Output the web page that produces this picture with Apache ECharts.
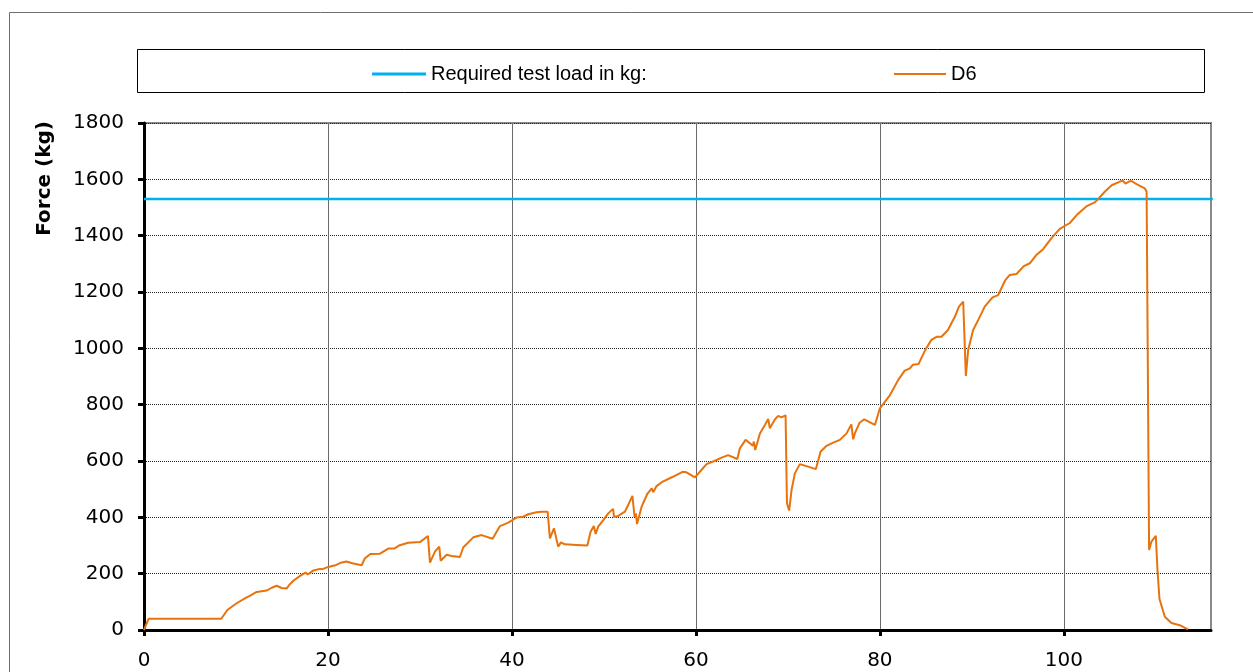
<!DOCTYPE html>
<html>
<head>
<meta charset="utf-8">
<script src="https://cdn.jsdelivr.net/npm/echarts@6/dist/echarts.min.js"></script>
<style>
  html, body { margin: 0; padding: 0; background: #fff; }
  #chart { width: 1253px; height: 672px; }
</style>
</head>
<body>
<div id="chart"></div>
<script>
// Load test record: elapsed time vs measured force
const timeValues = [
  0, 0.5, 8.4, 8.55, 9.06, 10.07, 11.16, 11.5, 12.25, 13.33, 13.88, 14.42, 14.96, 15.5, 15.8,
  16.23, 16.96, 17.57, 17.79, 18.4, 19.13, 19.4, 20.04, 20.9, 21.5, 22.0, 22.75, 23.66, 24.0,
  24.6, 25.65, 26.56, 27.2, 27.8, 28.73, 30.0, 30.87, 31.09, 31.63, 32.1, 32.25, 32.9, 33.45,
  34.35, 34.7, 35.8, 36.7, 37.9, 38.7, 39.6, 40.5, 41.2, 41.77, 42.68, 43.23, 43.88, 44.13,
  44.57, 44.75, 45.03, 45.33, 45.76, 47.03, 48.2, 48.55, 48.9, 49.1, 49.38, 49.93, 50.47, 51.0,
  51.1, 51.56, 52.28, 52.64, 53.1, 53.33, 53.48, 53.6, 54.1, 54.7, 55.2, 55.36, 55.72, 56.4,
  57.5, 58.6, 58.97, 59.9, 60.1, 60.6, 61.16, 62.07, 62.8, 63.5, 64.5, 64.78, 65.4, 65.87, 66.2,
  66.3, 66.45, 66.96, 67.5, 67.86, 68.04, 68.6, 68.95, 69.3, 69.75, 69.9, 70.03, 70.14, 70.4,
  70.76, 71.3, 72.2, 73.04, 73.55, 74.2, 74.93, 75.65, 76.38, 76.9, 77.1, 77.28, 77.8, 78.3,
  79.46, 80.0, 81.1, 82.0, 82.7, 83.26, 83.6, 84.2, 84.9, 85.6, 86.16, 86.7, 87.4, 88.15, 88.6,
  89.06, 89.35, 89.6, 90.14, 90.7, 91.4, 92.25, 92.86, 93.6, 94.1, 94.86, 95.65, 96.3, 97.0,
  97.75, 98.66, 99.56, 100.65, 101.4, 102.5, 103.4, 103.7, 104.45, 105.2, 106.1, 106.4, 106.7,
  107.07, 107.36, 107.9, 108.8, 109.0, 109.27, 109.53, 110.0, 110.18, 110.4, 110.98, 111.7,
  112.6, 113.5
];
const forceValues = [
  0, 40, 40, 47, 71, 95, 116, 121, 135, 140, 150, 157, 149, 147, 160,
  175, 192, 204, 197, 211, 217, 216, 224, 231, 240, 243, 236, 230, 254,
  270, 271, 289, 289, 301, 310, 312, 334, 239, 278, 296, 246, 267, 263,
  259, 293, 329, 337, 324, 369, 381, 399, 402, 411, 418, 420, 420, 325,
  361, 363, 296, 311, 304, 302, 300, 349, 369, 341, 367, 390, 414, 430,
  401, 405, 420, 444, 476, 402, 414, 376, 438, 482, 503, 489, 511, 527,
  544, 562, 560, 542, 540, 568, 589, 601, 612, 621, 607, 645, 675, 663, 654,
  669, 639, 698, 728, 749, 716, 748, 760, 755, 762, 450, 456, 424, 497,
  556, 589, 580, 571, 633, 654, 665, 675, 698, 730, 677, 698, 736, 748,
  728, 787, 834, 888, 921, 929, 942, 944, 992, 1030, 1041, 1041, 1065, 1112, 1148,
  1166, 902, 994, 1065, 1101, 1148, 1181, 1189, 1240, 1260, 1264, 1292, 1302, 1331,
  1352, 1391, 1424, 1445, 1473, 1505, 1519, 1529, 1556, 1579, 1592, 1596, 1585,
  1592, 1594, 1583, 1568, 1556, 284, 314, 334, 213, 110, 47, 25,
  17, 2
];
// Required test load reference line
const requiredLoadX = [0, 116.2];
const requiredLoadY = [1530, 1530];

const xTickValues = [0, 20, 40, 60, 80, 100];
const seriesNames = ['Required test load in kg:', 'D6'];

const chart = echarts.init(document.getElementById('chart'), null, { renderer: 'canvas' });

const labelFont = 'DejaVu Sans, Verdana, sans-serif';
const legendFont = 'Liberation Sans, Arial, sans-serif';

chart.setOption({
  animation: false,
  backgroundColor: '#fff',
  grid: {
    left: 144, top: 123, right: 42, bottom: 42,
    show: true, borderColor: '#8a8a8a', borderWidth: 2, backgroundColor: 'transparent'
  },
  graphic: [
    { type: 'rect', shape: { x: 9.5, y: 12.5, width: 1300, height: 700 },
      style: { fill: null, stroke: '#6f6f6f', lineWidth: 1 }, silent: true, z: -10 },
    { type: 'rect', shape: { x: 137.5, y: 49.5, width: 1067, height: 43 },
      style: { fill: '#fff', stroke: '#000', lineWidth: 1 }, silent: true, z: -5 },
    { type: 'text', left: 35, top: 121, rotation: Math.PI / 2,
      style: { text: 'Force (kg)', font: 'bold 20px ' + labelFont, fill: '#000' } }
  ],
  legend: [
    { data: [seriesNames[0]], left: 367, top: 59, icon: 'rect', itemWidth: 54, itemHeight: 3,
      textStyle: { fontFamily: legendFont, fontSize: 20, color: '#000' } },
    { data: [seriesNames[1]], left: 889, top: 59, icon: 'rect', itemWidth: 52, itemHeight: 2,
      textStyle: { fontFamily: legendFont, fontSize: 20, color: '#000' } }
  ],
  xAxis: {
    type: 'value', min: 0, max: 116, interval: 20,
    axisLine: { show: true, onZero: false, lineStyle: { color: '#000', width: 3 } },
    axisTick: { show: true, inside: false, length: 6, customValues: xTickValues,
      lineStyle: { color: '#000', width: 3 } },
    axisLabel: { customValues: xTickValues, fontFamily: labelFont, fontSize: 20, color: '#000', margin: 21 },
    splitLine: { show: true, lineStyle: { color: '#6a6a6a', width: 1, type: 'solid' } }
  },
  yAxis: {
    type: 'value', min: 0, max: 1800, interval: 200,
    axisLine: { show: true, onZero: false, lineStyle: { color: '#000', width: 3 } },
    axisTick: { show: true, inside: false, length: 6, lineStyle: { color: '#000', width: 3 } },
    axisLabel: { fontFamily: labelFont, fontSize: 20, color: '#000', margin: 20,
      formatter: v => String(v) },
    splitLine: { show: true, lineStyle: { color: '#222', width: 1, type: [1, 1] } }
  },
  series: [
    {
      name: seriesNames[0], type: 'line', symbol: 'none', clip: false,
      data: requiredLoadX.map((x, i) => [x, requiredLoadY[i]]),
      lineStyle: { color: '#00B0F0', width: 2.5 }, itemStyle: { color: '#00B0F0' }, z: 3
    },
    {
      name: seriesNames[1], type: 'line', symbol: 'none',
      data: timeValues.map((t, i) => [t, forceValues[i]]),
      lineStyle: { color: '#E8720C', width: 2 }, itemStyle: { color: '#E8720C' }, z: 4
    }
  ]
});
</script>
</body>
</html>
